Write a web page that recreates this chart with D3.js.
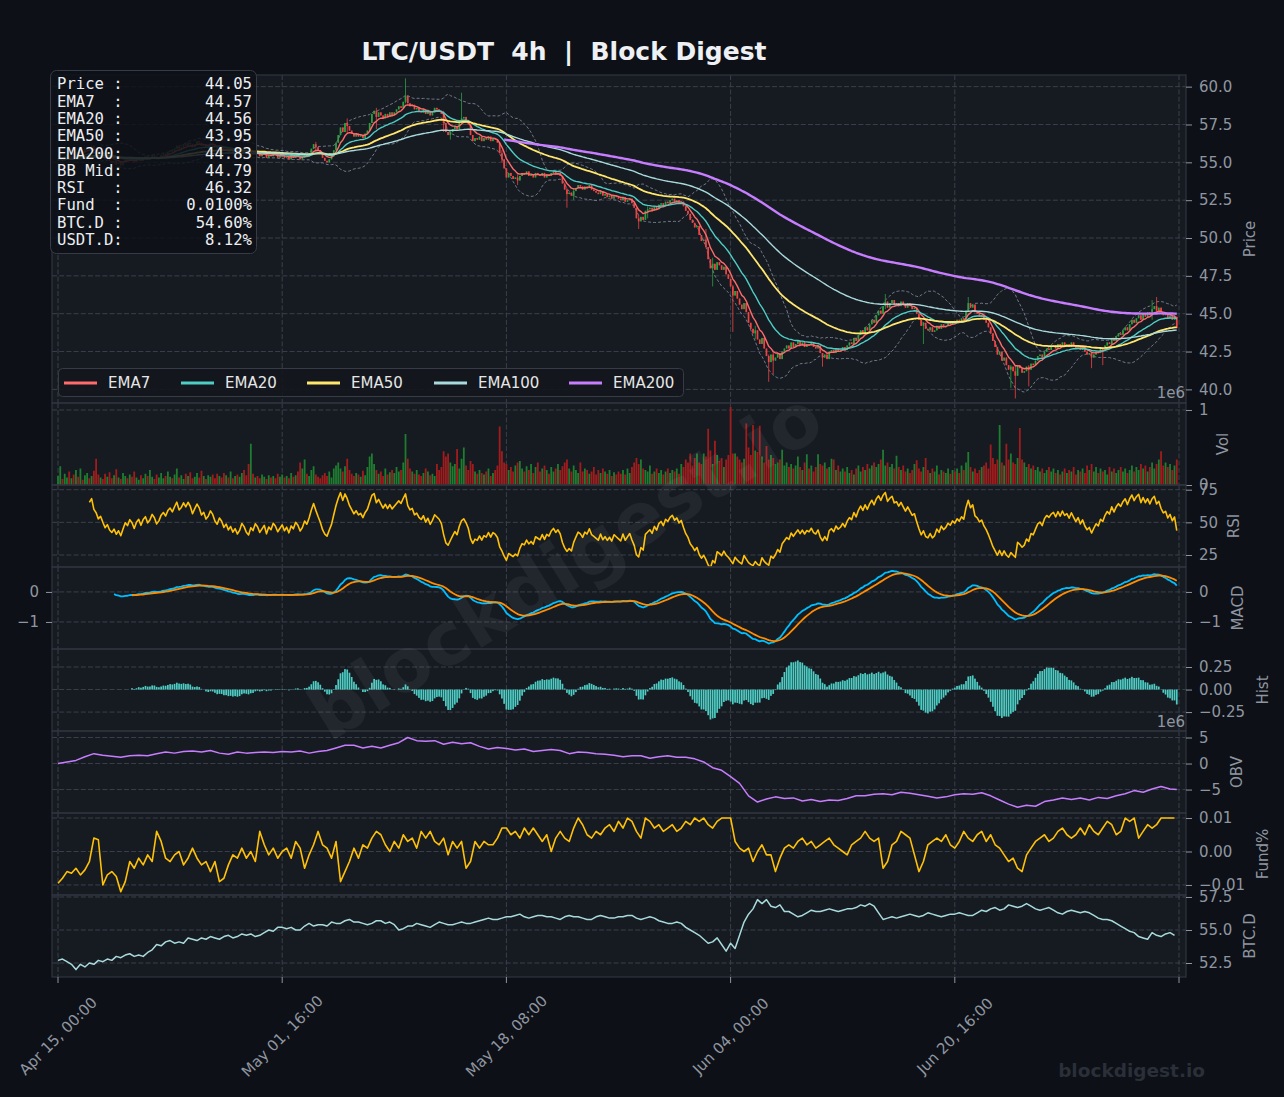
<!DOCTYPE html>
<html>
<head>
<meta charset="utf-8">
<script src="https://cdn.jsdelivr.net/npm/d3@7"></script>
<style>
  body { margin: 0; background: #0d1017; }
  svg { display: block; }
</style>
</head>
<body>
<div id="chart"></div>
<script>
// ---- data (4h bars, index 0 = Apr 15 00:00) ----
const closes = [
  55.2,55.3,55.1,55.4,55.5, 55.3,55.6,55.5,55.7,55.6, 55.8,55.7,55.9,56.0,55.9, 56.1,55.8,55.7,55.5,55.6, 55.4,55.2,55.3,55.1,55.0,
  55.1,54.9,55.0,54.8,55.0, 55.2,55.1,55.3,55.2,55.0, 55.2,55.3,55.1,55.3,55.4, 55.2,55.3,55.5,55.4,55.2, 55.3,55.5,55.6,55.5,55.7,
  55.8,55.7,55.9,56.1,55.9, 56.0,56.2,56.1,56.3,56.2, 56.0,56.2,56.4,56.3,56.1, 56.2,56.0,56.1,56.3,56.2, 56.0,55.9,56.1,56.0,55.8,
  55.9,55.7,55.8,55.6,55.7, 55.5,55.6,55.8,55.7,55.5, 55.4,55.6,55.5,55.7,55.6, 55.4,55.5,55.6,55.3,55.5, 55.4,55.6,55.5,55.3,55.4,
  55.5,55.3,55.4,55.2,55.4, 55.3,55.5,55.4,55.2,55.3, 55.5,55.4,55.6,55.9,56.2, 56.0,55.8,55.6,55.3,55.1, 55.0,55.2,55.4,55.8,56.3,
  56.8,57.3,57.0,57.6,57.4, 57.1,56.9,56.7,56.9,56.7, 56.8,56.6,56.9,57.1,57.6, 58.2,58.4,58.0,58.3,58.1, 57.9,58.2,58.0,58.3,58.1,
  58.3,58.5,58.7,58.6,59.0, 59.4,58.9,58.7,58.8,58.5, 58.6,58.4,58.3,58.5,58.2, 58.4,58.1,58.3,58.6,58.5, 58.4,58.2,57.6,57.0,56.8,
  57.0,57.2,57.4,57.2,57.6, 57.9,58.0,57.8,57.5,56.8, 56.4,56.6,56.5,56.7,56.4, 56.6,56.5,56.7,56.4,56.6, 56.5,56.3,55.6,55.2,54.6,
  54.0,54.3,54.1,53.9,54.0, 53.8,54.1,54.3,54.2,54.4, 54.1,54.2,54.0,54.3,54.2, 54.1,54.3,54.0,54.2,54.1, 54.3,54.4,54.2,54.3,54.1,
  53.6,53.2,52.9,53.0,52.8, 53.1,53.3,53.5,53.4,53.2, 53.4,53.3,53.5,53.2,53.1, 53.0,52.9,53.1,52.8,52.9, 52.7,52.8,52.6,52.8,52.7,
  52.6,52.5,52.7,52.4,52.5, 52.6,52.3,52.0,51.3,51.1, 51.4,51.2,51.8,51.9,52.0, 51.8,52.1,51.9,52.2,52.3, 52.1,52.4,52.3,52.5,52.6,
  52.4,52.5,52.3,52.4,52.1, 51.8,51.6,51.2,51.0,50.7, 50.8,50.2,49.8,49.9,49.4, 48.6,48.0,48.3,47.9,48.4, 48.2,47.9,48.1,47.6,47.3,
  46.8,46.2,46.5,46.0,45.6, 45.3,45.7,45.1,44.4,44.0, 43.7,43.9,43.3,43.0,43.4, 42.7,42.2,41.8,42.3,41.9, 42.1,42.4,42.0,42.5,42.7,
  42.9,42.7,43.1,42.8,43.0, 43.2,42.9,43.1,42.8,43.0, 42.9,43.1,42.8,42.7,42.9, 42.4,42.1,42.3,42.0,42.5, 42.6,42.4,42.7,42.5,42.6,
  42.8,42.6,42.9,43.1,43.0, 43.4,43.2,43.6,43.9,43.7, 44.1,43.9,44.3,44.6,44.4, 44.9,45.2,45.0,45.5,45.8, 45.4,45.7,45.9,45.6,45.7,
  45.5,45.8,45.6,45.4,45.7, 45.5,45.3,45.4,45.0,44.6, 44.2,44.4,44.0,43.9,44.1, 43.8,43.9,44.2,44.0,44.3, 44.1,44.2,44.4,44.3,44.5,
  44.4,44.6,44.5,44.7,44.6, 45.2,45.7,45.4,45.6,45.1, 45.0,44.8,44.9,44.6,44.4, 44.1,43.7,43.2,42.8,42.3, 42.5,41.9,42.1,41.6,41.3,
  41.5,41.2,40.9,41.6,41.4, 41.1,41.2,41.5,41.3,41.7, 41.6,41.9,42.2,42.3,42.1, 42.5,42.7,42.6,42.8,42.9, 42.7,43.0,42.8,43.1,42.9,
  43.0,42.8,43.1,42.9,42.7, 42.9,42.6,42.8,42.5,42.3, 42.4,42.1,42.3,42.5,42.4, 42.7,42.6,42.9,43.1,43.0, 43.4,43.2,43.5,43.7,43.6,
  43.9,44.1,43.9,44.3,44.6, 44.4,44.7,44.9,44.6,45.0, 44.8,45.1,44.9,45.3,45.5, 45.2,45.4,45.1,44.9,45.0, 44.7,44.9,44.6,44.8,44.05
];
const firstOpen = 55.1;

// visible wicks: [bar index, high, low]
const wicks = [
  [115,56.35,55.7],[129,57.9,56.9],[142,58.6,57.2],[155,60.55,58.9],[172,58.4,57.0],[175,57.1,56.5],
  [180,59.6,57.5],[198,55.8,55.0],[205,54.2,53.5],[227,53.3,52.0],[230,53.3,52.5],[259,51.5,50.6],
  [263,52.1,51.3],[289,50.6,49.5],[292,48.7,46.8],[301,46.9,43.8],[311,44.2,43.3],[317,42.3,40.5],
  [319,42.5,41.0],[341,42.4,41.5],[369,46.3,45.3],[386,44.3,43.0],[406,46.1,45.1],[425,41.6,40.1],
  [427,41.6,39.4],[433,41.6,40.2],[461,42.4,41.4],[466,42.7,41.6],[488,45.9,44.6],[490,46.1,45.0]
];

// volume, in units of 10k
const volumes = [
  12,25,8,15,10, 18,9,14,20,11, 22,7,13,16,9, 12,19,35,14,10, 8,15,11,17,9,
  13,21,10,8,16, 12,9,14,11,18, 10,7,13,9,15, 12,20,11,8,14, 10,16,9,12,18,
  11,9,14,22,10, 13,8,15,12,17, 9,11,16,10,19, 12,8,13,11,14, 9,15,12,10,16,
  13,10,18,9,12, 14,11,16,20,13, 28,55,15,10,12, 9,14,11,8,13, 10,12,9,15,11,
  14,10,12,9,16, 11,13,18,30,22, 34,15,12,20,25, 14,11,9,13,16, 12,18,10,22,26,
  30,22,18,25,35, 20,15,12,16,14, 11,19,13,24,38, 42,28,20,15,18, 12,22,14,17,20,
  16,24,18,20,30, 68,35,22,18,15, 20,14,12,16,22, 18,13,15,12,28, 20,24,45,38,42,
  30,25,28,48,22, 35,50,26,20,32, 28,18,15,20,16, 14,18,22,12,16, 20,26,78,45,30,
  28,20,24,18,26, 30,32,22,18,25, 20,28,16,24,30, 18,22,26,20,15, 24,18,22,28,20,
  25,30,34,22,18, 26,20,16,30,18, 22,20,15,18,24, 14,20,16,22,18, 15,20,12,17,14,
  18,15,20,14,22, 16,24,30,36,28, 34,22,20,18,26, 15,18,22,16,20, 14,18,22,16,20,
  18,22,15,28,24, 34,30,42,26,36, 42,30,28,42,38, 75,46,28,59,40, 32,36,24,34,40,
  104,42,42,38,34, 30,35,82,50,40, 80,46,44,79,38, 30,52,34,40,36, 28,30,34,47,26,
  30,24,28,22,26, 38,24,20,30,41, 22,26,18,24,41, 28,26,30,22,24, 35,34,20,26,18,
  22,18,24,16,20, 14,22,26,18,24, 20,28,22,26,30, 24,28,34,47,26, 30,24,28,22,39,
  24,20,26,18,22, 16,20,28,33,22, 18,24,36,20,16, 22,18,26,14,20, 18,16,22,15,20,
  18,22,16,26,20, 30,44,24,18,22, 16,20,24,26,30, 22,54,36,28,34, 80,30,26,55,34,
  42,30,28,36,76, 34,30,24,28,22, 26,20,24,18,22, 16,20,24,18,22, 16,20,14,18,22,
  16,20,18,24,14, 20,18,22,16,26, 20,28,18,24,16, 22,18,20,14,24, 18,22,16,20,24,
  18,22,16,20,26, 18,24,20,28,22, 26,18,24,30,22, 28,34,45,26,30, 24,28,20,26,34
];

// OBV (x1e6), one value every 4 bars; last value at the final bar
const obv = [
  0,0.3,0.6,1.3,1.9, 1.6,1.4,1.2,1.5,1.6, 1.5,1.9,2.2,2.0,2.3, 2.4,2.2,2.5,2.0,1.8,
  2.2,2.0,2.1,2.2,2.1, 2.3,2.2,2.4,2.0,2.3, 2.5,3.0,3.5,3.5,3.0, 3.3,3.0,3.5,4.0,5.0,
  4.4,4.3,4.4,3.7,4.1, 3.8,4.0,3.3,2.8,3.1, 2.9,2.6,2.8,2.3,2.5, 2.7,2.5,1.9,2.2,2.1,
  1.9,1.8,1.6,1.3,1.5, 1.5,1.0,1.3,1.5,1.2, 1.2,0.9,0.3,-0.8,-1.3, -2.5,-3.8,-6.2,-7.4,-6.8,
  -6.4,-6.7,-6.6,-7.2,-6.9, -7.3,-7.0,-7.1,-6.7,-6.2, -6.2,-5.9,-5.8,-6.0,-5.5, -5.7,-6.0,-6.3,-6.6,-6.4,
  -6.0,-5.8,-5.9,-5.6,-6.2, -7.0,-7.8,-8.4,-8.0,-8.2, -7.3,-7.0,-6.6,-6.9,-6.6, -7.0,-6.5,-6.7,-6.2,-5.8,
  -5.2,-5.5,-4.9,-4.4,-4.9, -5.0
];

// funding rate, in units of 0.001 %, one value every 2 bars
const funding = [
  -9.5,-8,-6,-6.5,-5, -7,-5.5,-3,4,3.5, -10,-7,-6,-7.5,-12, -9,-3,-5,-2,-4, -1,-3,6,3,-2,
  -3,-1,0,-4,-2, 1,-2,-4,-3,-6, -3,-9,-8,-4,-1, -2,1,-2,0,-3, 6,2,-1,1,-2,
  0,1,-2,3,1, -5,-1,2,6,2, 1,-2,3,-9,-6, -3,1,-2,2,1, 4,6,5,2,0,
  3,1,5,3,4, 1,6,4,6,3, 2,4,-1,3,1, 3,-5,-3,3,1, 3,2,2,4,7,
  7,5,6,4,7, 5,7,5,3,5, 0,4,6,4,3, 7,10,8,5,4, 6,5,7,8,6,
  9,7,10,9,6, 4,10,9,7,8, 6,7,8,6,7, 9,8,10,9,10, 8,7,9,10,10,
  10,3,1,0,1, -3,0,2,-1,-1, -6,-2,1,2,1, 3,4,2,3,1, 2,3,4,2,1,
  0,-1,2,3,4, 6,4,3,4,-5, -3,2,3,6,5, 4,-1,-6,-3,2, 3,4,3,5,2,
  1,3,6,4,3, 5,6,3,5,2, 1,-1,-3,-2,-5, -6,-1,1,3,4, 5,3,4,6,7,
  5,4,5,7,5, 8,6,5,7,9, 8,5,6,10,9, 10,4,6,8,7, 8,10,10,10,10
];

// BTC dominance (%), one value every 2 bars
const btcd = [
  52.7,52.8,52.6,52.4,52.0, 52.4,52.2,52.5,52.4,52.7, 52.6,52.8,52.7,53.0,52.9, 53.1,53.2,53.0,53.1,53.0, 53.3,53.5,53.9,53.8,54.1,
  54.2,54.0,54.1,54.0,54.4, 54.3,54.2,54.4,54.3,54.5, 54.4,54.3,54.5,54.6,54.4, 54.5,54.7,54.6,54.7,54.5, 54.6,54.8,55.0,54.9,55.2,
  55.2,55.1,55.2,55.0,55.0, 55.3,55.5,55.3,55.4,55.4, 55.3,55.6,55.5,55.5,55.7, 55.8,55.6,55.6,55.5,55.4, 55.5,55.7,55.7,55.5,55.6,
  55.4,55.0,55.1,55.3,55.3, 55.5,55.4,55.3,55.2,55.4, 55.6,55.5,55.4,55.4,55.5, 55.6,55.5,55.5,55.6,55.7, 55.8,55.9,55.8,55.8,55.9,
  56.0,56.0,56.1,56.2,56.0, 55.9,56.0,56.1,56.1,56.0, 56.0,55.9,55.8,56.0,56.1, 56.0,56.0,55.9,55.8,55.8, 56.0,56.1,56.0,55.9,55.9,
  56.0,56.0,56.1,56.1,55.9, 55.8,55.9,56.0,55.9,55.7, 55.6,55.5,55.5,55.6,55.5, 55.2,55.0,54.8,54.6,54.3, 54.0,54.1,54.4,53.9,53.4,
  54.0,53.6,54.6,55.6,56.2, 56.6,57.3,57.0,57.3,56.8, 56.7,56.9,56.4,56.4,56.2, 56.0,56.1,56.3,56.5,56.4, 56.4,56.5,56.6,56.5,56.4,
  56.5,56.6,56.6,56.7,56.9, 56.8,57.0,56.8,56.3,55.8, 55.9,56.0,55.9,56.0,56.1, 56.2,56.1,56.0,56.1,56.3, 56.2,56.1,56.0,56.1,56.2,
  56.2,56.3,56.2,56.1,56.1, 56.3,56.5,56.4,56.6,56.7, 56.5,56.6,56.9,56.8,56.7, 56.8,57.0,56.8,56.6,56.5, 56.6,56.7,56.5,56.3,56.2,
  56.4,56.5,56.4,56.3,56.4, 56.3,56.1,55.9,55.8,55.8, 55.7,55.5,55.3,55.1,54.9, 54.8,54.5,54.4,54.3,54.8, 54.6,54.5,54.7,54.8,54.6
];

const xTickIdx = [0, 100, 200, 300, 400, 500];
const xTickLabels = ["Apr 15, 00:00", "May 01, 16:00", "May 18, 08:00", "Jun 04, 00:00", "Jun 20, 16:00", ""];

const infoLabels = ["Price :", "EMA7  :", "EMA20 :", "EMA50 :", "EMA200:", "BB Mid:", "RSI   :", "Fund  :", "BTC.D :", "USDT.D:"];
const infoValues = ["44.05", "44.57", "44.56", "43.95", "44.83", "44.79", "46.32", "0.0100%", "54.60%", "8.12%"];

const emaSpans = [7, 20, 50, 100, 200];
const emaNames = ["EMA7", "EMA20", "EMA50", "EMA100", "EMA200"];
const emaColors = ["#ff6b6b", "#4ecdc4", "#ffe66d", "#a8dadc", "#c77dff"];
const emaWidths = [1.4, 1.4, 1.8, 1.4, 2.4];

// ---- indicators ----
const N = closes.length;
const opens = closes.map((c, i) => i === 0 ? firstOpen : closes[i - 1]);
const highs = closes.map((c, i) => Math.max(c, opens[i]));
const lows = closes.map((c, i) => Math.min(c, opens[i]));
wicks.forEach(([i, h, l]) => { highs[i] = Math.max(highs[i], h); lows[i] = Math.min(lows[i], l); });

function ema(src, span, minStart) {
  const a = 2 / (span + 1);
  let prev = null;
  return src.map((v, i) => {
    if (v == null) return null;
    prev = prev == null ? v : a * v + (1 - a) * prev;
    return i >= minStart ? prev : null;
  });
}
const emas = emaSpans.map(s => ema(closes, s, s === 200 ? 199 : 0));

const bbUp = [], bbLo = [];
for (let i = 0; i < N; i++) {
  if (i < 19) { bbUp.push(null); bbLo.push(null); continue; }
  const w = closes.slice(i - 19, i + 1);
  const m = d3.mean(w), sd = d3.deviation(w);
  bbUp.push(m + 2 * sd); bbLo.push(m - 2 * sd);
}

// RSI(14): simple average of the first 14 moves, then Wilder smoothing
const rsi = new Array(N).fill(null);
let avgG = 0, avgL = 0;
for (let i = 1; i < N; i++) {
  const d = closes[i] - closes[i - 1];
  const g = Math.max(d, 0), l = Math.max(-d, 0);
  if (i <= 14) { avgG += g / 14; avgL += l / 14; }
  else { avgG += (g - avgG) / 14; avgL += (l - avgL) / 14; }
  if (i >= 14) rsi[i] = avgL === 0 ? 100 : 100 - 100 / (1 + avgG / avgL);
}

const e12 = ema(closes, 12, 0), e26 = ema(closes, 26, 0);
const macd = closes.map((c, i) => i >= 25 ? e12[i] - e26[i] : null);
const sigRaw = ema(macd, 9, 0);
const signal = sigRaw.map((v, i) => i >= 33 ? v : null);
const hist = macd.map((m, i) => signal[i] == null ? null : m - signal[i]);

// ---- layout ----
const W = 1284, H = 1097, PL = 52, PR = 1186;
const GRID = "#3a404b", TXT = "#8f96a0", FONT = "DejaVu Sans, sans-serif";
const x = d3.scaleLinear().domain([0, 500]).range([58, 1179]);

const panels = [
  {id: "price", top: 75, bot: 403, dom: [39.1, 60.77], ticks: d3.range(40, 60.01, 2.5), fmt: ".1f", label: "Price", lx: 1249.5},
  {id: "vol", top: 403, bot: 485, dom: [0, 109.3], ticks: [0, 100], fmt: v => d3.format("d")(v / 100), label: "Vol", lx: 1223, offset: 398},
  {id: "rsi", top: 485, bot: 567, dom: [15.8, 78.6], ticks: [25, 50, 75], fmt: "d", label: "RSI", lx: 1233.5},
  {id: "macd", top: 567, bot: 649, dom: [-1.9, 0.83], ticks: [-1, 0], fmt: "d", label: "MACD", lx: 1238, left: true},
  {id: "hist", top: 649, bot: 731, dom: [-0.46, 0.45], ticks: [-0.25, 0, 0.25], fmt: ".2f", label: "Hist", lx: 1263},
  {id: "obv", top: 731, bot: 813, dom: [-9.5, 6.25], ticks: [-5, 0, 5], fmt: "d", label: "OBV", lx: 1237, offset: 727},
  {id: "fund", top: 813, bot: 895, dom: [-13, 11.5], ticks: [-10, 0, 10], fmt: v => d3.format(".2f")(v / 1000), label: "Fund%", lx: 1263},
  {id: "btcd", top: 895, bot: 977, dom: [51.44, 57.65], ticks: [52.5, 55, 57.5], fmt: ".1f", label: "BTC.D", lx: 1249.5}
];
const P = {};

const svg = d3.select("#chart").append("svg").attr("width", W).attr("height", H)
  .style("font-family", FONT);
svg.append("rect").attr("width", W).attr("height", H).attr("fill", "#0d1017");
const defs = svg.append("defs");

panels.forEach(p => {
  P[p.id] = p;
  p.y = d3.scaleLinear().domain(p.dom).range([p.bot, p.top]);
  const g = svg.append("g");
  g.append("rect").attr("x", PL).attr("y", p.top).attr("width", PR - PL).attr("height", p.bot - p.top).attr("fill", "#161a21");
  g.selectAll("line.h").data(p.ticks).join("line").attr("class", "h")
    .attr("x1", PL).attr("x2", PR).attr("y1", d => p.y(d)).attr("y2", d => p.y(d))
    .attr("stroke", GRID).attr("stroke-width", 1).attr("stroke-dasharray", "5,2.2");
  g.selectAll("line.v").data(xTickIdx).join("line").attr("class", "v")
    .attr("x1", d => x(d)).attr("x2", d => x(d)).attr("y1", p.top).attr("y2", p.bot)
    .attr("stroke", GRID).attr("stroke-width", 1).attr("stroke-dasharray", "5,2.2");
  defs.append("clipPath").attr("id", "clip-" + p.id).append("rect")
    .attr("x", PL).attr("y", p.top).attr("width", PR - PL).attr("height", p.bot - p.top);
  p.g = svg.append("g").attr("clip-path", `url(#clip-${p.id})`);
});

function drawSeries(p, values, color, width, dash, xs) {
  const idx = d3.range(values.length);
  const gen = d3.line().defined(i => values[i] != null)
    .x(i => x(xs ? xs(i) : i)).y(i => p.y(values[i]));
  p.g.append("path").attr("d", gen(idx)).attr("fill", "none")
    .attr("stroke", color).attr("stroke-width", width)
    .attr("stroke-linejoin", "round").attr("stroke-dasharray", dash || null);
}

// ---- price panel ----
const pp = P.price;
drawSeries(pp, bbUp, "#7d8594", 0.9, "3,2");
drawSeries(pp, bbLo, "#7d8594", 0.9, "3,2");
const UP = "#2ea043", DN = "#ef4444";
const candles = pp.g.append("g");
candles.selectAll("line").data(d3.range(N)).join("line")
  .attr("x1", i => x(i)).attr("x2", i => x(i))
  .attr("y1", i => pp.y(highs[i])).attr("y2", i => pp.y(lows[i]))
  .attr("stroke", i => closes[i] >= opens[i] ? UP : DN).attr("stroke-width", 0.8);
candles.selectAll("rect").data(d3.range(N)).join("rect")
  .attr("x", i => x(i) - 0.85).attr("width", 1.7)
  .attr("y", i => pp.y(Math.max(opens[i], closes[i])))
  .attr("height", i => Math.max(0.8, Math.abs(pp.y(opens[i]) - pp.y(closes[i]))))
  .attr("fill", i => closes[i] >= opens[i] ? UP : DN);
emas.forEach((e, k) => drawSeries(pp, e, emaColors[k], emaWidths[k]));

// ---- volume ----
const pv = P.vol;
pv.g.selectAll("rect").data(d3.range(N)).join("rect")
  .attr("x", i => x(i) - 0.9).attr("width", 1.8)
  .attr("y", i => pv.y(volumes[i])).attr("height", i => pv.y(0) - pv.y(volumes[i]))
  .attr("fill", i => closes[i] >= opens[i] ? "#1f7d30" : "#a11d1d");

// ---- RSI / MACD / Hist ----
drawSeries(P.rsi, rsi, "#ffc107", 1.6);
drawSeries(P.macd, macd, "#00bfff", 1.8);
drawSeries(P.macd, signal, "#ff8c00", 1.8);
const ph = P.hist;
ph.g.selectAll("rect").data(d3.range(N).filter(i => hist[i] != null)).join("rect")
  .attr("x", i => x(i) - 0.85).attr("width", 1.7)
  .attr("y", i => ph.y(Math.max(0, hist[i])))
  .attr("height", i => Math.abs(ph.y(hist[i]) - ph.y(0)))
  .attr("fill", "#4ecdc4");

// ---- OBV / funding / BTC.D ----
drawSeries(P.obv, obv, "#c77dff", 1.5, null, j => Math.min(j * 4, N - 1));
drawSeries(P.fund, funding, "#ffc107", 1.6, null, j => j * 2);
drawSeries(P.btcd, btcd, "#a8dadc", 1.5, null, j => j * 2);

// ---- frames, axes, labels ----
panels.forEach(p => {
  svg.append("rect").attr("x", PL).attr("y", p.top).attr("width", PR - PL).attr("height", p.bot - p.top)
    .attr("fill", "none").attr("stroke", "#2f343e").attr("stroke-width", 1.2);
  const fmt = typeof p.fmt === "function" ? p.fmt : d3.format(p.fmt);
  svg.append("g").attr("transform", `translate(${PR},0)`)
    .call(d3.axisRight(p.y).tickValues(p.ticks).tickFormat(fmt).tickSize(6).tickPadding(7));
  if (p.left) {
    svg.append("g").attr("transform", `translate(${PL},0)`)
      .call(d3.axisLeft(p.y).tickValues(p.ticks).tickFormat(fmt).tickSize(6).tickPadding(7));
  }
  svg.append("text")
    .attr("transform", `translate(${p.lx},${(p.top + p.bot) / 2}) rotate(-90)`)
    .attr("text-anchor", "middle").attr("dy", "0.35em")
    .attr("fill", TXT).attr("font-size", 15).text(p.label);
  if (p.offset) {
    svg.append("text").attr("x", 1185).attr("y", p.offset).attr("text-anchor", "end")
      .attr("fill", TXT).attr("font-size", 15).text("1e6");
  }
});
svg.selectAll(".domain").remove();
svg.selectAll(".tick line").attr("stroke", TXT);
svg.selectAll(".tick text").attr("fill", TXT).attr("font-size", 15).attr("font-family", FONT);

// x axis: rotated labels centred under the ticks
const xa = svg.append("g");
xa.selectAll("line").data(xTickIdx).join("line")
  .attr("x1", d => x(d)).attr("x2", d => x(d)).attr("y1", 977).attr("y2", 983)
  .attr("stroke", TXT);
xa.selectAll("text").data(xTickIdx).join("text")
  .attr("transform", d => `translate(${x(d)},${1036}) rotate(-45)`)
  .attr("text-anchor", "middle").attr("dy", "0.35em")
  .attr("fill", TXT).attr("font-size", 15)
  .text((d, i) => xTickLabels[i]);

// ---- legend ----
const lg = svg.append("g");
lg.append("rect").attr("x", 58.5).attr("y", 368.5).attr("width", 625).attr("height", 28).attr("rx", 4)
  .attr("fill", "#13161d").attr("fill-opacity", 0.9).attr("stroke", "#363b45");
const legX = [64, 181, 307, 434, 569];
emaNames.forEach((n, k) => {
  lg.append("line").attr("x1", legX[k]).attr("x2", legX[k] + 33).attr("y1", 383).attr("y2", 383)
    .attr("stroke", emaColors[k]).attr("stroke-width", 3);
  lg.append("text").attr("x", legX[k] + 44).attr("y", 388).attr("fill", "#e6e6e6")
    .attr("font-size", 15).text(n);
});

// ---- info box ----
const ib = svg.append("g").style("font-family", "'DejaVu Sans Mono', monospace");
ib.append("rect").attr("x", 50.5).attr("y", 70.5).attr("width", 206).attr("height", 183).attr("rx", 6)
  .attr("fill", "#0d1017").attr("fill-opacity", 0.86).attr("stroke", "#363b45");
infoLabels.forEach((t, k) => {
  const yb = 89.3 + k * 17.3;
  ib.append("text").attr("x", 57).attr("y", yb).attr("fill", "#eceef1")
    .attr("font-size", 15.6).style("white-space", "pre").text(t);
  ib.append("text").attr("x", 252).attr("y", yb).attr("text-anchor", "end").attr("fill", "#eceef1")
    .attr("font-size", 15.6).text(infoValues[k]);
});

// ---- title and watermarks ----
svg.append("text").attr("x", 564).attr("y", 60).attr("text-anchor", "middle")
  .attr("fill", "#eef0f4").attr("font-size", 25).attr("font-weight", "bold")
  .style("white-space", "pre").text("LTC/USDT  4h  |  Block Digest");
svg.append("text").attr("transform", "translate(565,565) rotate(-32)")
  .attr("text-anchor", "middle").attr("dy", "0.35em")
  .attr("fill", "#ffffff").attr("fill-opacity", 0.055)
  .attr("font-size", 74).attr("font-weight", "bold").text("blockdigest.io");
svg.append("text").attr("x", 1205).attr("y", 1077).attr("text-anchor", "end")
  .attr("fill", "#2a2f38").attr("font-size", 18.5).attr("font-weight", "bold").text("blockdigest.io");
</script>
</body>
</html>
